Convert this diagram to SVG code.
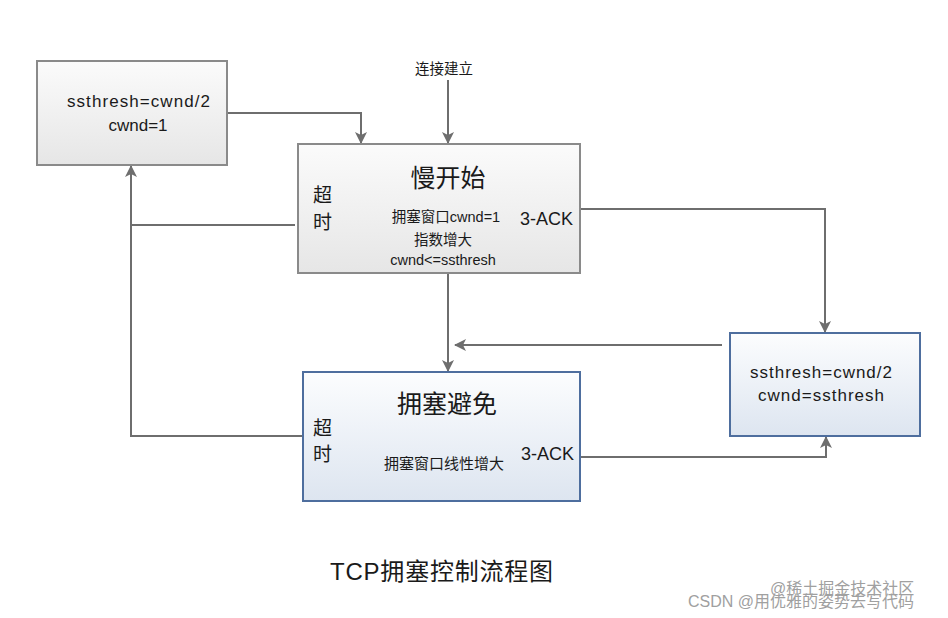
<svg xmlns="http://www.w3.org/2000/svg" width="948" height="618" viewBox="0 0 948 618">
<defs>
<linearGradient id="gGray" x1="0" y1="0" x2="0" y2="1">
<stop offset="0" stop-color="#fbfbfb"/><stop offset="1" stop-color="#e6e6e6"/>
</linearGradient>
<linearGradient id="gBlue" x1="0" y1="0" x2="0" y2="1">
<stop offset="0" stop-color="#fcfdfe"/><stop offset="1" stop-color="#dde5f0"/>
</linearGradient>
<marker id="arr" markerWidth="12" markerHeight="12" viewBox="0 0 12 12" refX="11" refY="6" orient="auto" markerUnits="userSpaceOnUse">
<path d="M0,0 L12,6 L0,12 L3,6 Z" fill="#6e6e6e"/>
</marker>
</defs>
<style>
.gray{fill:url(#gGray);stroke:#8a8a8a;stroke-width:2}
.blue{fill:url(#gBlue);stroke:#4e6e9e;stroke-width:2}
.t{font-family:"Liberation Sans","Noto Sans CJK SC",sans-serif;fill:#1a1a1a}
.c{text-anchor:middle}
.ln{fill:none;stroke:#6e6e6e;stroke-width:2}
.wm{font-family:"Liberation Sans","Noto Sans CJK SC",sans-serif;fill:#a0a0a0;font-size:16px}
</style>
<rect width="948" height="618" fill="#ffffff"/>
<g id="connectors">
<polyline class="ln" points="227,113 361,113 361,143" marker-end="url(#arr)"/>
<line class="ln" x1="448" y1="80" x2="448" y2="143" marker-end="url(#arr)"/>
<polyline class="ln" points="295,225 131,225"/>
<polyline class="ln" points="303,436 131,436 131,166" marker-end="url(#arr)"/>
<polyline class="ln" points="580,209 825,209 825,332" marker-end="url(#arr)"/>
<line class="ln" x1="448" y1="273" x2="448" y2="371" marker-end="url(#arr)"/>
<line class="ln" x1="722" y1="345" x2="455" y2="345" marker-end="url(#arr)"/>
<polyline class="ln" points="580,457 826,457 826,437" marker-end="url(#arr)"/>
</g>
<g id="start-label">
<text class="t c" x="444" y="74" font-size="14.5">连接建立</text>
</g>
<g id="node-timeout">
<rect class="gray" x="37" y="61" width="190" height="104"/>
<text class="t" x="67" y="107" font-size="17" textLength="143">ssthresh=cwnd/2</text>
<text class="t c" x="138" y="131" font-size="17">cwnd=1</text>
</g>
<g id="node-slowstart">
<rect class="gray" x="298" y="144" width="282" height="129"/>
<text class="t c" x="448" y="187" font-size="25">慢开始</text>
<text class="t" x="313" y="202" font-size="19">超</text>
<text class="t" x="313" y="229" font-size="19">时</text>
<text class="t c" x="446" y="222" font-size="14.5">拥塞窗口cwnd=1</text>
<text class="t c" x="443" y="245" font-size="14.5">指数增大</text>
<text class="t c" x="443" y="265" font-size="14.5">cwnd&lt;=ssthresh</text>
<text class="t" x="520" y="225" font-size="18">3-ACK</text>
</g>
<g id="node-avoid">
<rect class="blue" x="303" y="372" width="277" height="129"/>
<text class="t c" x="447" y="413" font-size="25">拥塞避免</text>
<text class="t" x="313" y="435" font-size="19">超</text>
<text class="t" x="313" y="461" font-size="19">时</text>
<text class="t c" x="444" y="469" font-size="15">拥塞窗口线性增大</text>
<text class="t" x="521" y="460" font-size="18">3-ACK</text>
</g>
<g id="node-fastrecovery">
<rect class="blue" x="730" y="333" width="190" height="103"/>
<text class="t" x="750" y="378" font-size="17" textLength="142">ssthresh=cwnd/2</text>
<text class="t" x="758" y="401" font-size="17" textLength="126">cwnd=ssthresh</text>
</g>
<g id="title">
<text class="t" x="330" y="580" font-size="24" textLength="223">TCP拥塞控制流程图</text>
</g>
<g id="watermark">
<text class="wm" x="770" y="594">@稀土掘金技术社区</text>
<text class="wm" x="688" y="607">CSDN @用优雅的姿势去写代码</text>
</g>
</svg>
